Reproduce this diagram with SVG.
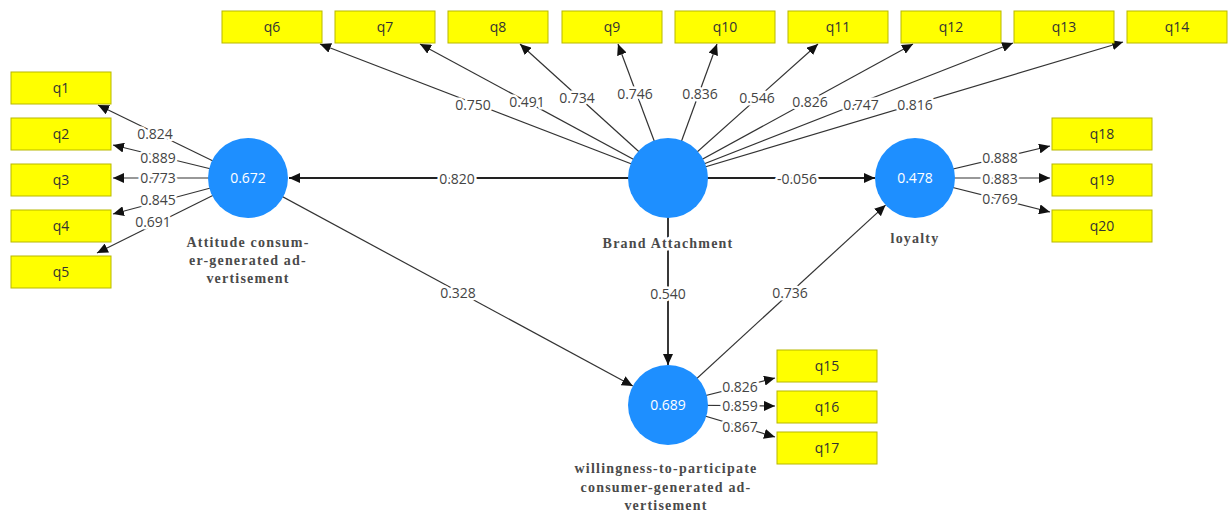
<svg xmlns="http://www.w3.org/2000/svg" width="1228" height="513" viewBox="0 0 1228 513">
<style>
.bg{fill:#ffffff}
.box{fill:#ffff00;stroke:#b8b800;stroke-width:1}
.btxt{font-family:"Open Sans","Liberation Sans",sans-serif;font-size:14px;fill:#333;text-anchor:middle}
.lv{fill:#1e8fff}
.ltxt{font-family:"Open Sans","Liberation Sans",sans-serif;font-size:14px;fill:#ffffff;text-anchor:middle}
.name{font-family:"Liberation Serif","DejaVu Serif",serif;font-size:14px;font-weight:bold;fill:#4a4a4a;text-anchor:middle;letter-spacing:1.2px;stroke:#fff;stroke-width:6px;paint-order:stroke;stroke-linejoin:round}
.ld{stroke:#333;stroke-width:1.2;fill:none;marker-end:url(#ah)}
.sp{stroke:#222;stroke-width:1.8;fill:none;marker-end:url(#ah)}
.val{font-family:"Open Sans","Liberation Sans",sans-serif;font-size:14px;fill:#444;text-anchor:middle;stroke:#fff;stroke-width:5px;paint-order:stroke;stroke-linejoin:round}
</style>
<defs>
<marker id="ah" markerUnits="userSpaceOnUse" markerWidth="11" markerHeight="10" refX="11" refY="5" orient="auto">
<path d="M0,0 L11,5 L0,10 z" fill="#111"/>
</marker>
</defs>
<rect class="bg" x="0" y="0" width="1228" height="513"/>
<g id="connectors">
<line class="ld" x1="248" y1="178" x2="98" y2="105"/>
<line class="ld" x1="248" y1="178" x2="113" y2="145"/>
<line class="ld" x1="248" y1="178" x2="113" y2="178"/>
<line class="ld" x1="248" y1="178" x2="113" y2="214"/>
<line class="ld" x1="248" y1="178" x2="97" y2="253"/>
<line class="ld" x1="668" y1="178" x2="320" y2="44"/>
<line class="ld" x1="668" y1="178" x2="420" y2="44"/>
<line class="ld" x1="668" y1="178" x2="520" y2="44"/>
<line class="ld" x1="668" y1="178" x2="618" y2="44"/>
<line class="ld" x1="668" y1="178" x2="717" y2="44"/>
<line class="ld" x1="668" y1="178" x2="818" y2="44"/>
<line class="ld" x1="668" y1="178" x2="913" y2="44"/>
<line class="ld" x1="668" y1="178" x2="1013" y2="43"/>
<line class="ld" x1="668" y1="178" x2="1123" y2="42"/>
<line class="ld" x1="915" y1="178" x2="1050" y2="146"/>
<line class="ld" x1="915" y1="178" x2="1050" y2="178"/>
<line class="ld" x1="915" y1="178" x2="1050" y2="212"/>
<line class="ld" x1="668" y1="405" x2="775" y2="378"/>
<line class="ld" x1="668" y1="405" x2="775" y2="406"/>
<line class="ld" x1="668" y1="405" x2="775" y2="437"/>
<line class="sp" x1="668" y1="178" x2="289" y2="178"/>
<line class="sp" x1="668" y1="178" x2="875" y2="178"/>
<line class="sp" x1="668" y1="178" x2="668" y2="365"/>
<line class="ld" x1="248" y1="178" x2="632.8" y2="386"/>
<line class="ld" x1="668" y1="405" x2="885.6" y2="205.1"/>
<text class="val" x="155" y="139">0.824</text>
<text class="val" x="158" y="163">0.889</text>
<text class="val" x="158" y="183">0.773</text>
<text class="val" x="158" y="205">0.845</text>
<text class="val" x="153" y="227">0.691</text>
<text class="val" x="473" y="110">0.750</text>
<text class="val" x="527" y="107">0.491</text>
<text class="val" x="577" y="103">0.734</text>
<text class="val" x="635" y="99">0.746</text>
<text class="val" x="700" y="99">0.836</text>
<text class="val" x="757" y="103">0.546</text>
<text class="val" x="810" y="107">0.826</text>
<text class="val" x="861" y="110">0.747</text>
<text class="val" x="915" y="110">0.816</text>
<text class="val" x="1000" y="163">0.888</text>
<text class="val" x="1000" y="184">0.883</text>
<text class="val" x="1000" y="204">0.769</text>
<text class="val" x="740" y="392">0.826</text>
<text class="val" x="740" y="411">0.859</text>
<text class="val" x="740" y="432">0.867</text>
<text class="val" x="457" y="184">0.820</text>
<text class="val" x="797" y="184">-0.056</text>
<text class="val" x="668" y="299">0.540</text>
<text class="val" x="458" y="298">0.328</text>
<text class="val" x="790" y="298">0.736</text>
</g>
<g id="attitude">
<circle class="lv" cx="248" cy="178" r="40"/>
<text class="ltxt" x="248" y="183">0.672</text>
<text class="name" x="248" y="247">Attitude consum-</text>
<text class="name" x="248" y="265">er-generated ad-</text>
<text class="name" x="248" y="283">vertisement</text>
</g>
<g id="brand">
<circle class="lv" cx="668" cy="178" r="40"/>
<text class="name" x="668" y="248">Brand Attachment</text>
</g>
<g id="loyalty">
<circle class="lv" cx="915" cy="178" r="40"/>
<text class="ltxt" x="915" y="183">0.478</text>
<text class="name" x="915" y="243">loyalty</text>
</g>
<g id="willingness">
<circle class="lv" cx="668" cy="405" r="40"/>
<text class="ltxt" x="668" y="410">0.689</text>
<text class="name" x="666" y="473">willingness-to-participate</text>
<text class="name" x="666" y="492">consumer-generated ad-</text>
<text class="name" x="666" y="510">vertisement</text>
</g>
<g id="q1"><rect class="box" x="11" y="72" width="100" height="32"/><text class="btxt" x="61" y="93">q1</text></g>
<g id="q2"><rect class="box" x="11" y="118" width="100" height="32"/><text class="btxt" x="61" y="139">q2</text></g>
<g id="q3"><rect class="box" x="11" y="164" width="100" height="32"/><text class="btxt" x="61" y="185">q3</text></g>
<g id="q4"><rect class="box" x="11" y="210" width="100" height="32"/><text class="btxt" x="61" y="231">q4</text></g>
<g id="q5"><rect class="box" x="11" y="256" width="100" height="32"/><text class="btxt" x="61" y="277">q5</text></g>
<g id="q6"><rect class="box" x="222" y="11" width="100" height="32"/><text class="btxt" x="272" y="32">q6</text></g>
<g id="q7"><rect class="box" x="335" y="11" width="100" height="32"/><text class="btxt" x="385" y="32">q7</text></g>
<g id="q8"><rect class="box" x="448" y="11" width="100" height="32"/><text class="btxt" x="498" y="32">q8</text></g>
<g id="q9"><rect class="box" x="562" y="11" width="100" height="32"/><text class="btxt" x="612" y="32">q9</text></g>
<g id="q10"><rect class="box" x="675" y="11" width="100" height="32"/><text class="btxt" x="725" y="32">q10</text></g>
<g id="q11"><rect class="box" x="788" y="11" width="100" height="32"/><text class="btxt" x="838" y="32">q11</text></g>
<g id="q12"><rect class="box" x="901" y="11" width="100" height="32"/><text class="btxt" x="951" y="32">q12</text></g>
<g id="q13"><rect class="box" x="1014" y="11" width="100" height="32"/><text class="btxt" x="1064" y="32">q13</text></g>
<g id="q14"><rect class="box" x="1127" y="11" width="100" height="32"/><text class="btxt" x="1177" y="32">q14</text></g>
<g id="q15"><rect class="box" x="777" y="350" width="100" height="32"/><text class="btxt" x="827" y="371">q15</text></g>
<g id="q16"><rect class="box" x="777" y="391" width="100" height="32"/><text class="btxt" x="827" y="412">q16</text></g>
<g id="q17"><rect class="box" x="777" y="432" width="100" height="32"/><text class="btxt" x="827" y="453">q17</text></g>
<g id="q18"><rect class="box" x="1052" y="118" width="100" height="32"/><text class="btxt" x="1102" y="139">q18</text></g>
<g id="q19"><rect class="box" x="1052" y="164" width="100" height="32"/><text class="btxt" x="1102" y="185">q19</text></g>
<g id="q20"><rect class="box" x="1052" y="210" width="100" height="32"/><text class="btxt" x="1102" y="231">q20</text></g>
</svg>
